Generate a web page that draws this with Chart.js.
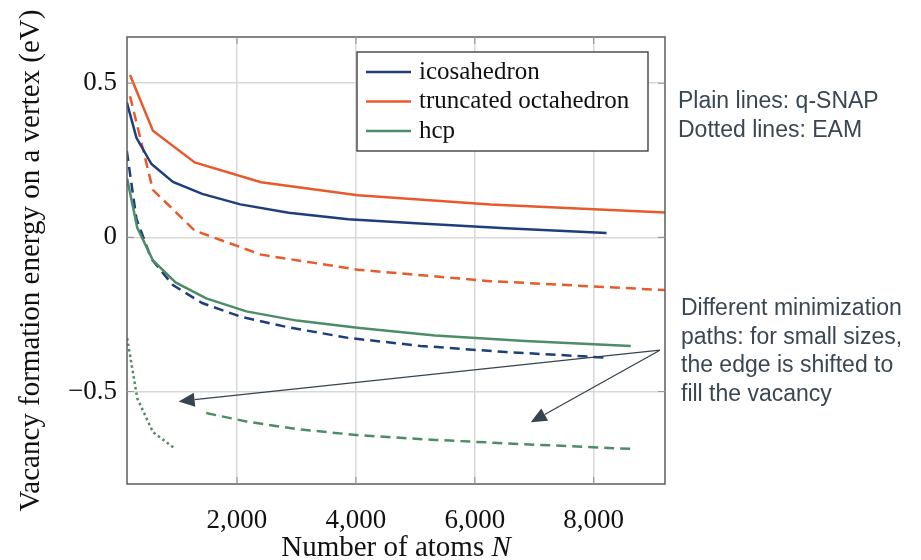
<!DOCTYPE html>
<html>
<head>
<meta charset="utf-8">
<script src="https://cdn.jsdelivr.net/npm/chart.js@4/dist/chart.umd.min.js"></script>
<style>
  html, body { margin: 0; padding: 0; background: #fff; }
  #wrap { width: 921px; height: 560px; }
</style>
</head>
<body>
<div id="wrap"><canvas id="grafico" width="921" height="560"></canvas></div>
<script>
// cluster sizes (magic numbers) per shape
const nIco = [147, 309, 561, 923, 1415, 2057, 2869, 3871, 5083, 6525, 8217];
const nTo = [201, 586, 1289, 2406, 4033, 6266, 9201];
const nHcp = [153, 323, 587, 967, 1483, 2157, 3009, 4061, 5333, 6847, 8623];

// vacancy formation energy (eV)
const icoSnap = [0.438, 0.323, 0.238, 0.180, 0.141, 0.107, 0.080, 0.059, 0.045, 0.030, 0.014];
const icoEam = [0.28, 0.06, -0.07, -0.155, -0.213, -0.257, -0.292, -0.326, -0.352, -0.372, -0.39];
const toSnap = [0.527, 0.346, 0.243, 0.179, 0.137, 0.107, 0.081];
const toEam = [0.458, 0.154, 0.022, -0.056, -0.105, -0.142, -0.171];
const hcpSnap = [0.19, 0.031, -0.075, -0.146, -0.198, -0.240, -0.270, -0.294, -0.318, -0.336, -0.352];
const nHcpEamSmall = [153, 323, 587, 967];
const hcpEamSmall = [-0.327, -0.522, -0.632, -0.686];
const nHcpEamLarge = [1483, 2157, 3009, 4061, 5333, 6847, 8623];
const hcpEamLarge = [-0.570, -0.597, -0.622, -0.642, -0.657, -0.671, -0.686];

const xTicks = [2000, 4000, 6000, 8000];
const yTicks = [-0.5, 0, 0.5];

const legendLabels = ["icosahedron", "truncated octahedron", "hcp"];
const notaTopo = ["Plain lines: q-SNAP", "Dotted lines: EAM"];
const notaBaixo = ["Different minimization", "paths: for small sizes,", "the edge is shifted to", "fill the vacancy"];

// arrows: common start and two tips, in data units
const setaInicio = { x: 9114, y: -0.366 };
const setaPontas = [{ x: 1018, y: -0.532 }, { x: 6941, y: -0.60 }];

const azul = "#1d3e7c";
const laranja = "#e85a2b";
const verde = "#4e8c67";
const corTexto = "#3a4651";
const serif = "'Liberation Serif', 'DejaVu Serif', serif";

function pares(xs, ys) {
  return xs.map((x, i) => ({ x: x, y: ys[i] }));
}

function serie(label, xs, ys, cor, dash) {
  return {
    label: label,
    data: pares(xs, ys),
    borderColor: cor,
    backgroundColor: cor,
    borderWidth: 2.5,
    borderDash: dash,
    pointRadius: 0,
    tension: 0,
    fill: false
  };
}

const datasets = [
  serie("icosahedron", nIco, icoSnap, azul, []),
  serie("truncated octahedron", nTo, toSnap, laranja, []),
  serie("hcp", nHcp, hcpSnap, verde, []),
  serie("icosahedron EAM", nIco, icoEam, azul, [10, 6]),
  serie("truncated octahedron EAM", nTo, toEam, laranja, [10, 6]),
  serie("hcp EAM", nHcpEamLarge, hcpEamLarge, verde, [10, 6]),
  serie("hcp EAM small", nHcpEamSmall, hcpEamSmall, verde, [2.5, 3])
];

const extras = {
  id: "extras",
  afterDatasetsDraw(chart) {
    const ctx = chart.ctx;
    const area = chart.chartArea;
    const sx = chart.scales.x;
    const sy = chart.scales.y;

    // frame
    ctx.save();
    ctx.strokeStyle = "#5c5c5c";
    ctx.lineWidth = 1.5;
    ctx.strokeRect(area.left, area.top, area.right - area.left, area.bottom - area.top);

    // small inner ticks
    ctx.strokeStyle = "#9a9a9a";
    ctx.lineWidth = 1.2;
    xTicks.forEach(v => {
      const px = sx.getPixelForValue(v);
      ctx.beginPath();
      ctx.moveTo(px, area.bottom); ctx.lineTo(px, area.bottom - 7);
      ctx.moveTo(px, area.top); ctx.lineTo(px, area.top + 7);
      ctx.stroke();
    });
    yTicks.forEach(v => {
      const py = sy.getPixelForValue(v);
      ctx.beginPath();
      ctx.moveTo(area.left, py); ctx.lineTo(area.left + 7, py);
      ctx.moveTo(area.right, py); ctx.lineTo(area.right - 7, py);
      ctx.stroke();
    });

    // arrows
    ctx.strokeStyle = "#37434d";
    ctx.fillStyle = "#37434d";
    ctx.lineWidth = 1.3;
    const x0 = sx.getPixelForValue(setaInicio.x);
    const y0 = sy.getPixelForValue(setaInicio.y);
    setaPontas.forEach(p => {
      const x1 = sx.getPixelForValue(p.x);
      const y1 = sy.getPixelForValue(p.y);
      const ang = Math.atan2(y1 - y0, x1 - x0);
      const len = 16, half = 7;
      const bx = x1 - len * Math.cos(ang);
      const by = y1 - len * Math.sin(ang);
      ctx.beginPath();
      ctx.moveTo(x0, y0);
      ctx.lineTo(bx, by);
      ctx.stroke();
      ctx.beginPath();
      ctx.moveTo(x1, y1);
      ctx.lineTo(bx + half * Math.sin(ang), by - half * Math.cos(ang));
      ctx.lineTo(bx - half * Math.sin(ang), by + half * Math.cos(ang));
      ctx.closePath();
      ctx.fill();
    });

    // legend box
    const lx = area.right - 308, ly = area.top + 15, lw = 291, lh = 99;
    ctx.fillStyle = "#fff";
    ctx.fillRect(lx, ly, lw, lh);
    ctx.strokeStyle = "#333";
    ctx.lineWidth = 1.3;
    ctx.strokeRect(lx, ly, lw, lh);
    ctx.font = "25px " + serif;
    ctx.textBaseline = "middle";
    ctx.textAlign = "left";
    legendLabels.forEach((lab, i) => {
      const ds = chart.data.datasets[i];
      const yy = ly + 20 + i * 29.5;
      ctx.strokeStyle = ds.borderColor;
      ctx.lineWidth = 2.5;
      ctx.beginPath();
      ctx.moveTo(lx + 9, yy);
      ctx.lineTo(lx + 54, yy);
      ctx.stroke();
      ctx.fillStyle = "#111";
      ctx.fillText(lab, lx + 62, yy);
    });

    // side notes
    ctx.fillStyle = corTexto;
    ctx.font = "23px 'Liberation Sans', Arial, sans-serif";
    ctx.textBaseline = "alphabetic";
    notaTopo.forEach((t, i) => ctx.fillText(t, 678, 108 + i * 28.5));
    notaBaixo.forEach((t, i) => ctx.fillText(t, 681, 315 + i * 28.5));

    // axis titles
    ctx.fillStyle = "#111";
    const tam = "29px ";
    const parte1 = "Number of atoms ";
    ctx.font = tam + serif;
    const w1 = ctx.measureText(parte1).width;
    ctx.font = "italic " + tam + serif;
    const w2 = ctx.measureText("N").width;
    const cx = (area.left + area.right) / 2;
    const tx = cx - (w1 + w2) / 2;
    ctx.font = tam + serif;
    ctx.fillText(parte1, tx, 556);
    ctx.font = "italic " + tam + serif;
    ctx.fillText("N", tx + w1, 556);

    ctx.translate(39, (area.top + area.bottom) / 2);
    ctx.rotate(-Math.PI / 2);
    ctx.font = tam + serif;
    ctx.textAlign = "center";
    ctx.fillText("Vacancy formation energy on a vertex (eV)", 0, 0);
    ctx.restore();
  }
};

const ctx = document.getElementById("grafico").getContext("2d");
const grafico = new Chart(ctx, {
  type: "line",
  data: { datasets: datasets },
  options: {
    responsive: false,
    animation: false,
    layout: { padding: { left: 0, top: 37, right: 256, bottom: 0 } },
    plugins: { legend: { display: false }, tooltip: { enabled: false } },
    scales: {
      x: {
        type: "linear",
        min: 150,
        max: 9200,
        afterFit: s => { s.height = 76; },
        afterBuildTicks: s => { s.ticks = xTicks.map(v => ({ value: v })); },
        grid: { color: "#d8d8d8", lineWidth: 1.5, drawTicks: false },
        border: { display: false },
        ticks: {
          padding: 21,
          color: "#111",
          font: { family: serif, size: 27 },
          maxRotation: 0,
          callback: v => v.toLocaleString("en-US")
        }
      },
      y: {
        min: -0.8,
        max: 0.65,
        afterFit: s => { s.width = 127; },
        afterBuildTicks: s => { s.ticks = yTicks.map(v => ({ value: v })); },
        grid: { color: "#d8d8d8", lineWidth: 1.5, drawTicks: false },
        border: { display: false },
        ticks: {
          padding: 10,
          color: "#111",
          font: { family: serif, size: 27 },
          callback: v => (v < 0 ? "\u2212" + Math.abs(v) : String(v))
        }
      }
    }
  },
  plugins: [extras]
});
</script>
</body>
</html>
